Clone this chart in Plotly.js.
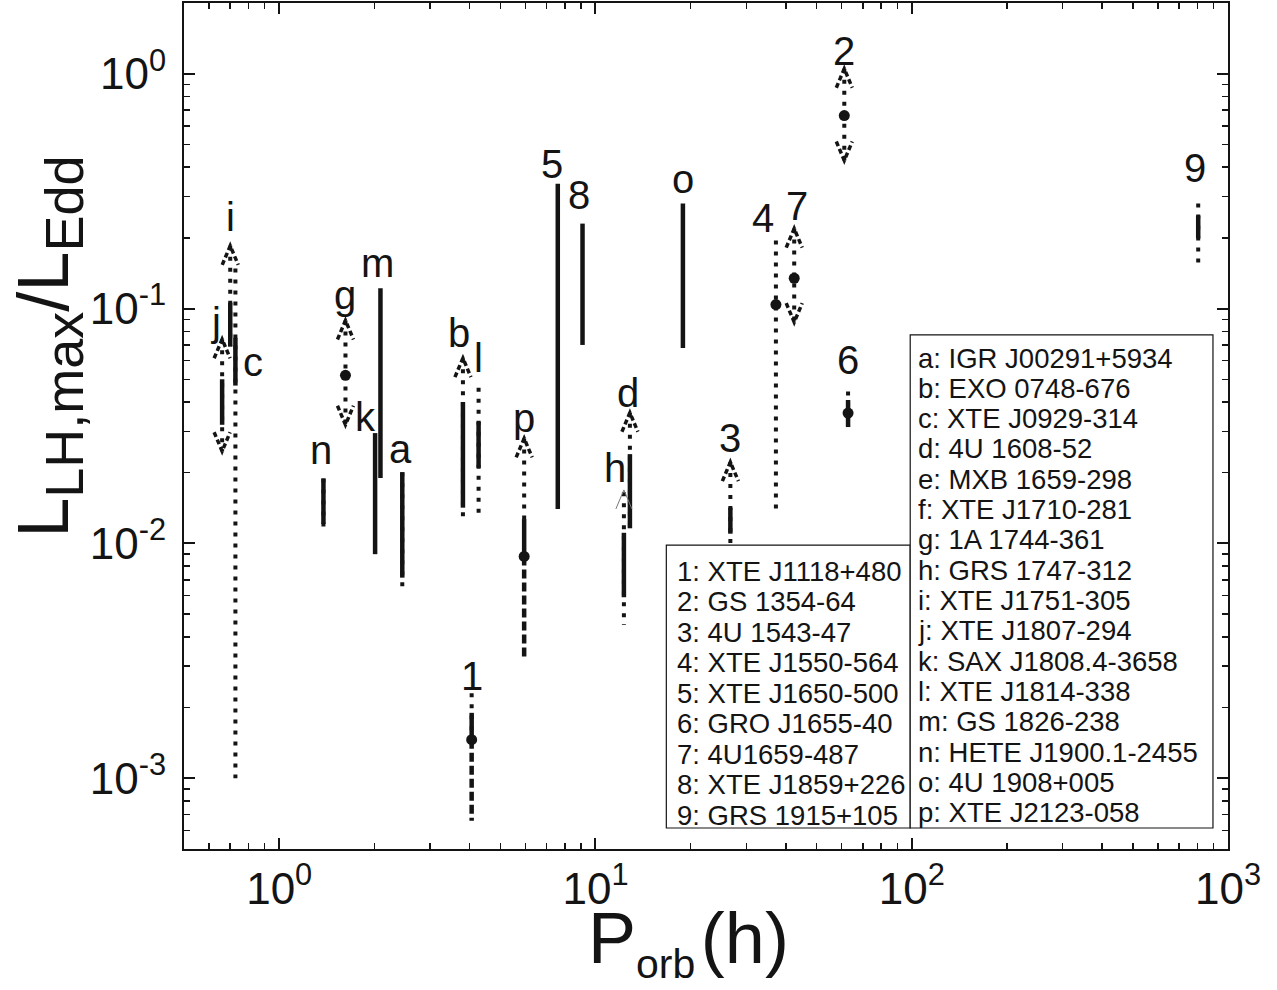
<!DOCTYPE html>
<html><head><meta charset="utf-8">
<script src="https://cdn.plot.ly/plotly-3.0.1.min.js"></script>
<style>html,body{margin:0;padding:0;background:#fff;}#chart{width:1277px;height:990px;}</style>
</head><body><div id="chart"></div>
<script>
// ---- data ----
const ids      = ['j','i','c','n','g','k','m','a','b','l','1','p','5','8','h','d','o','3','4','7','2','6','9'];
const period   = [0.66,0.70,0.727,1.38,1.62,2.01,2.09,2.45,3.81,4.27,4.06,5.95,7.6,9.1,12.3,12.85,18.9,26.7,37.2,42.5,61.2,62.9,805];
const solidHi  = [0.050,0.106,0.075,0.0189,null,0.0295,0.122,0.0201,0.040,0.033,0.0019,0.0127,0.34,0.23,0.0111,0.024,0.28,0.0142,null,null,null,0.0408,0.249];
const solidLo  = [0.032,0.069,0.047,0.0121,null,0.009,0.019,0.00715,0.0142,0.021,0.00146,0.0088,0.014,0.07,0.0059,0.0116,0.068,0.011,null,null,null,0.0313,0.199];
const dotHi    = [0.074,0.185,0.148,0.0189,0.089,null,null,0.0201,0.0615,0.046,0.0023,0.028,null,null,0.0165,0.036,null,0.0222,0.195,0.219,1.05,0.0443,0.28];
const dotLo    = [0.0247,0.069,0.001,0.0114,0.032,null,null,0.0063,0.0126,0.0128,0.00146,0.0127,null,null,0.0045,0.0116,null,0.0098,0.0135,0.0875,0.427,0.0313,0.148];
const dashHi   = [null,null,null,null,null,null,null,null,null,null,0.00146,0.0088,null,null,null,null,null,null,null,null,null,null,null];
const dashLo   = [null,null,null,null,null,null,null,null,null,null,0.00066,0.0033,null,null,null,null,null,null,null,null,null,null,null];
const pointY   = [null,null,null,null,0.052,null,null,null,null,null,0.00146,0.0088,null,null,null,null,null,null,0.104,0.1346,0.663,0.0359,null];
const arrowUp  = [0.074,0.185,null,null,0.089,null,null,null,0.0615,null,null,0.028,null,null,null,0.036,null,0.0222,null,0.219,1.05,null,null];
const arrowDn  = [0.0247,null,null,null,0.032,null,null,null,null,null,null,null,null,null,null,null,null,null,null,0.0875,0.427,null,null];
const thinUp   = [null,null,null,null,null,null,null,null,null,null,null,null,null,null,0.0169,null,null,null,null,null,null,null,null];
const numLegend = ['1: XTE J1118+480','2: GS 1354-64','3: 4U 1543-47','4: XTE J1550-564','5: XTE J1650-500','6: GRO J1655-40','7: 4U1659-487','8: XTE J1859+226','9: GRS 1915+105'];
const letterLegend = ['a: IGR J00291+5934','b: EXO 0748-676','c: XTE J0929-314','d: 4U 1608-52','e: MXB 1659-298','f: XTE J1710-281','g: 1A 1744-361','h: GRS 1747-312','i: XTE J1751-305','j: XTE J1807-294','k: SAX J1808.4-3658','l: XTE J1814-338','m: GS 1826-238','n: HETE J1900.1-2455','o: 4U 1908+005','p: XTE J2123-058'];
const xTickVals = [1,10,100,1000];
const xTickText = ['10<sup>0</sup>','10<sup>1</sup>','10<sup>2</sup>','10<sup>3</sup>'];
const yTickVals = [0.001,0.01,0.1,1];
const yTickText = ['10<sup>-3</sup>','10<sup>-2</sup>','10<sup>-1</sup>','10<sup>0</sup>'];

// ---- label placement (pixel offsets from the top of each source) ----
const labelOff = {j:[-6,17],i:[0,29],c:[18,-93],n:[-2,29],g:[0,25],k:[-10,16],m:[-3,25],a:[-2,23],b:[-4,25],l:[0,30],
  '1':[0,17],p:[0,20],'5':[-6,20],'8':[-4,29],h:[-9,22],d:[-2,20],o:[0,25],'3':[0,24],'4':[-13,22],'7':[3,23],'2':[0,18],'6':[0,32],'9':[-3,36]};

const INK = '#141414';
function segs(hi, lo){
  const x=[], y=[];
  for(let i=0;i<ids.length;i++){ if(hi[i]!=null){ x.push(period[i],period[i],null); y.push(hi[i],lo[i],null);} }
  return {x,y};
}
const dotS = segs(dotHi, dotLo), solS = segs(solidHi, solidLo), dashS = segs(dashHi, dashLo);
const ptX=[], ptY=[];
pointY.forEach((v,i)=>{ if(v!=null){ ptX.push(period[i]); ptY.push(v);} });

const traces = [
  {type:'scatter', mode:'lines', x:dotS.x, y:dotS.y, line:{color:INK,width:4,dash:'4px,7px'}, hoverinfo:'skip', connectgaps:false},
  {type:'scatter', mode:'lines', x:dashS.x, y:dashS.y, line:{color:INK,width:4.5,dash:'9px,4px'}, hoverinfo:'skip', connectgaps:false},
  {type:'scatter', mode:'lines', x:solS.x, y:solS.y, line:{color:INK,width:4.5}, hoverinfo:'skip', connectgaps:false},
  {type:'scatter', mode:'markers', x:ptX, y:ptY, marker:{color:INK,size:11,symbol:'circle'}, hoverinfo:'skip'}
];

const shapes = [];
function caret(i, v, up, thin){
  const p = up ? 'M -8 -19 L 0 0 L 8 -19' : 'M -8 19 L 0 0 L 8 19';
  shapes.push({type:'path', xref:'x', yref:'y', xsizemode:'pixel', ysizemode:'pixel', xanchor:period[i], yanchor:v, path:p,
    line: thin ? {color:'#777',width:1} : {color:INK,width:3.5,dash:'5px,3px'}});
}
for(let i=0;i<ids.length;i++){
  if(arrowUp[i]!=null) caret(i, arrowUp[i], true, false);
  if(arrowDn[i]!=null) caret(i, arrowDn[i], false, false);
  if(thinUp[i]!=null) caret(i, thinUp[i], true, true);
}
// legend boxes
shapes.push({type:'rect', xref:'paper', yref:'paper', x0:0.462, x1:0.6956, y0:0.0248, y1:0.3593, layer:'above', fillcolor:'#fff', line:{color:INK,width:1.2}});
shapes.push({type:'rect', xref:'paper', yref:'paper', x0:0.6956, x1:0.9856, y0:0.0248, y1:0.6076, layer:'above', fillcolor:'#fff', line:{color:INK,width:1.2}});

const FONT = 'Liberation Sans, Arial, sans-serif';
const annotations = [];
for(let i=0;i<ids.length;i++){
  const tops = [solidHi[i],dotHi[i],dashHi[i],arrowUp[i],thinUp[i],pointY[i]].filter(v=>v!=null);
  const top = Math.max(...tops);
  const off = labelOff[ids[i]];
  annotations.push({xref:'x', yref:'y', x:Math.log10(period[i]), y:Math.log10(top), text:ids[i], showarrow:false,
    xanchor:'center', yanchor:'middle', xshift:off[0], yshift:off[1], font:{family:FONT,size:40,color:INK}});
}
numLegend.forEach((t,k)=>{
  annotations.push({xref:'paper', yref:'paper', x:0.4706, y:(849-571-k*30.5)/846, text:t, showarrow:false, xanchor:'left', yanchor:'middle', font:{family:FONT,size:27.5,color:INK}});
});
letterLegend.forEach((t,k)=>{
  annotations.push({xref:'paper', yref:'paper', x:0.7013, y:(849-358-k*30.33)/846, text:t, showarrow:false, xanchor:'left', yanchor:'middle', font:{family:FONT,size:27.5,color:INK}});
});
annotations.push({xref:'paper', yref:'paper', x:0.483, y:-0.11, text:'P<sub><span style="font-size:41px">orb</span></sub><span style="font-size:20px"> </span>(h)', showarrow:false, xanchor:'center', yanchor:'middle', font:{family:FONT,size:72,color:INK}});
annotations.push({xref:'paper', yref:'paper', x:-0.13, y:0.594, text:'L<sub><span style="font-size:54px">LH,max</span></sub>/L<sub><span style="font-size:54px">Edd</span></sub>', textangle:-90, showarrow:false, xanchor:'center', yanchor:'middle', font:{family:FONT,size:72,color:INK}});

const minorX=[], minorY=[];
[0.1,1,10,100].forEach(d=>{ for(let k=2;k<10;k++) minorX.push(d*k); });
[0.0001,0.001,0.01,0.1,1].forEach(d=>{ for(let k=2;k<10;k++) minorY.push(d*k); });

const axisCommon = {showline:true, linecolor:INK, linewidth:2, mirror:'ticks', ticks:'inside', ticklen:11, tickwidth:2, tickcolor:INK,
  showgrid:false, zeroline:false, tickfont:{family:FONT,size:44,color:INK}};
const layout = {
  width:1277, height:990, margin:{l:184,r:49,t:3,b:141}, paper_bgcolor:'#fff', plot_bgcolor:'#fff', showlegend:false,
  xaxis: Object.assign({}, axisCommon, {type:'log', range:[Math.log10(0.5),3], tickmode:'array', tickvals:xTickVals, ticktext:xTickText, ticklabelstandoff:0,
    minor:{tickmode:'array', tickvals:minorX, ticks:'inside', ticklen:6, tickwidth:1.5, tickcolor:INK, showgrid:false}}),
  yaxis: Object.assign({}, axisCommon, {type:'log', range:[Math.log10(0.0005),Math.log10(2)], tickmode:'array', tickvals:yTickVals, ticktext:yTickText, ticklabelstandoff:7,
    minor:{tickmode:'array', tickvals:minorY, ticks:'inside', ticklen:6, tickwidth:1.5, tickcolor:INK, showgrid:false}}),
  shapes, annotations
};
Plotly.newPlot('chart', traces, layout, {staticPlot:true, displayModeBar:false});
</script></body></html>
